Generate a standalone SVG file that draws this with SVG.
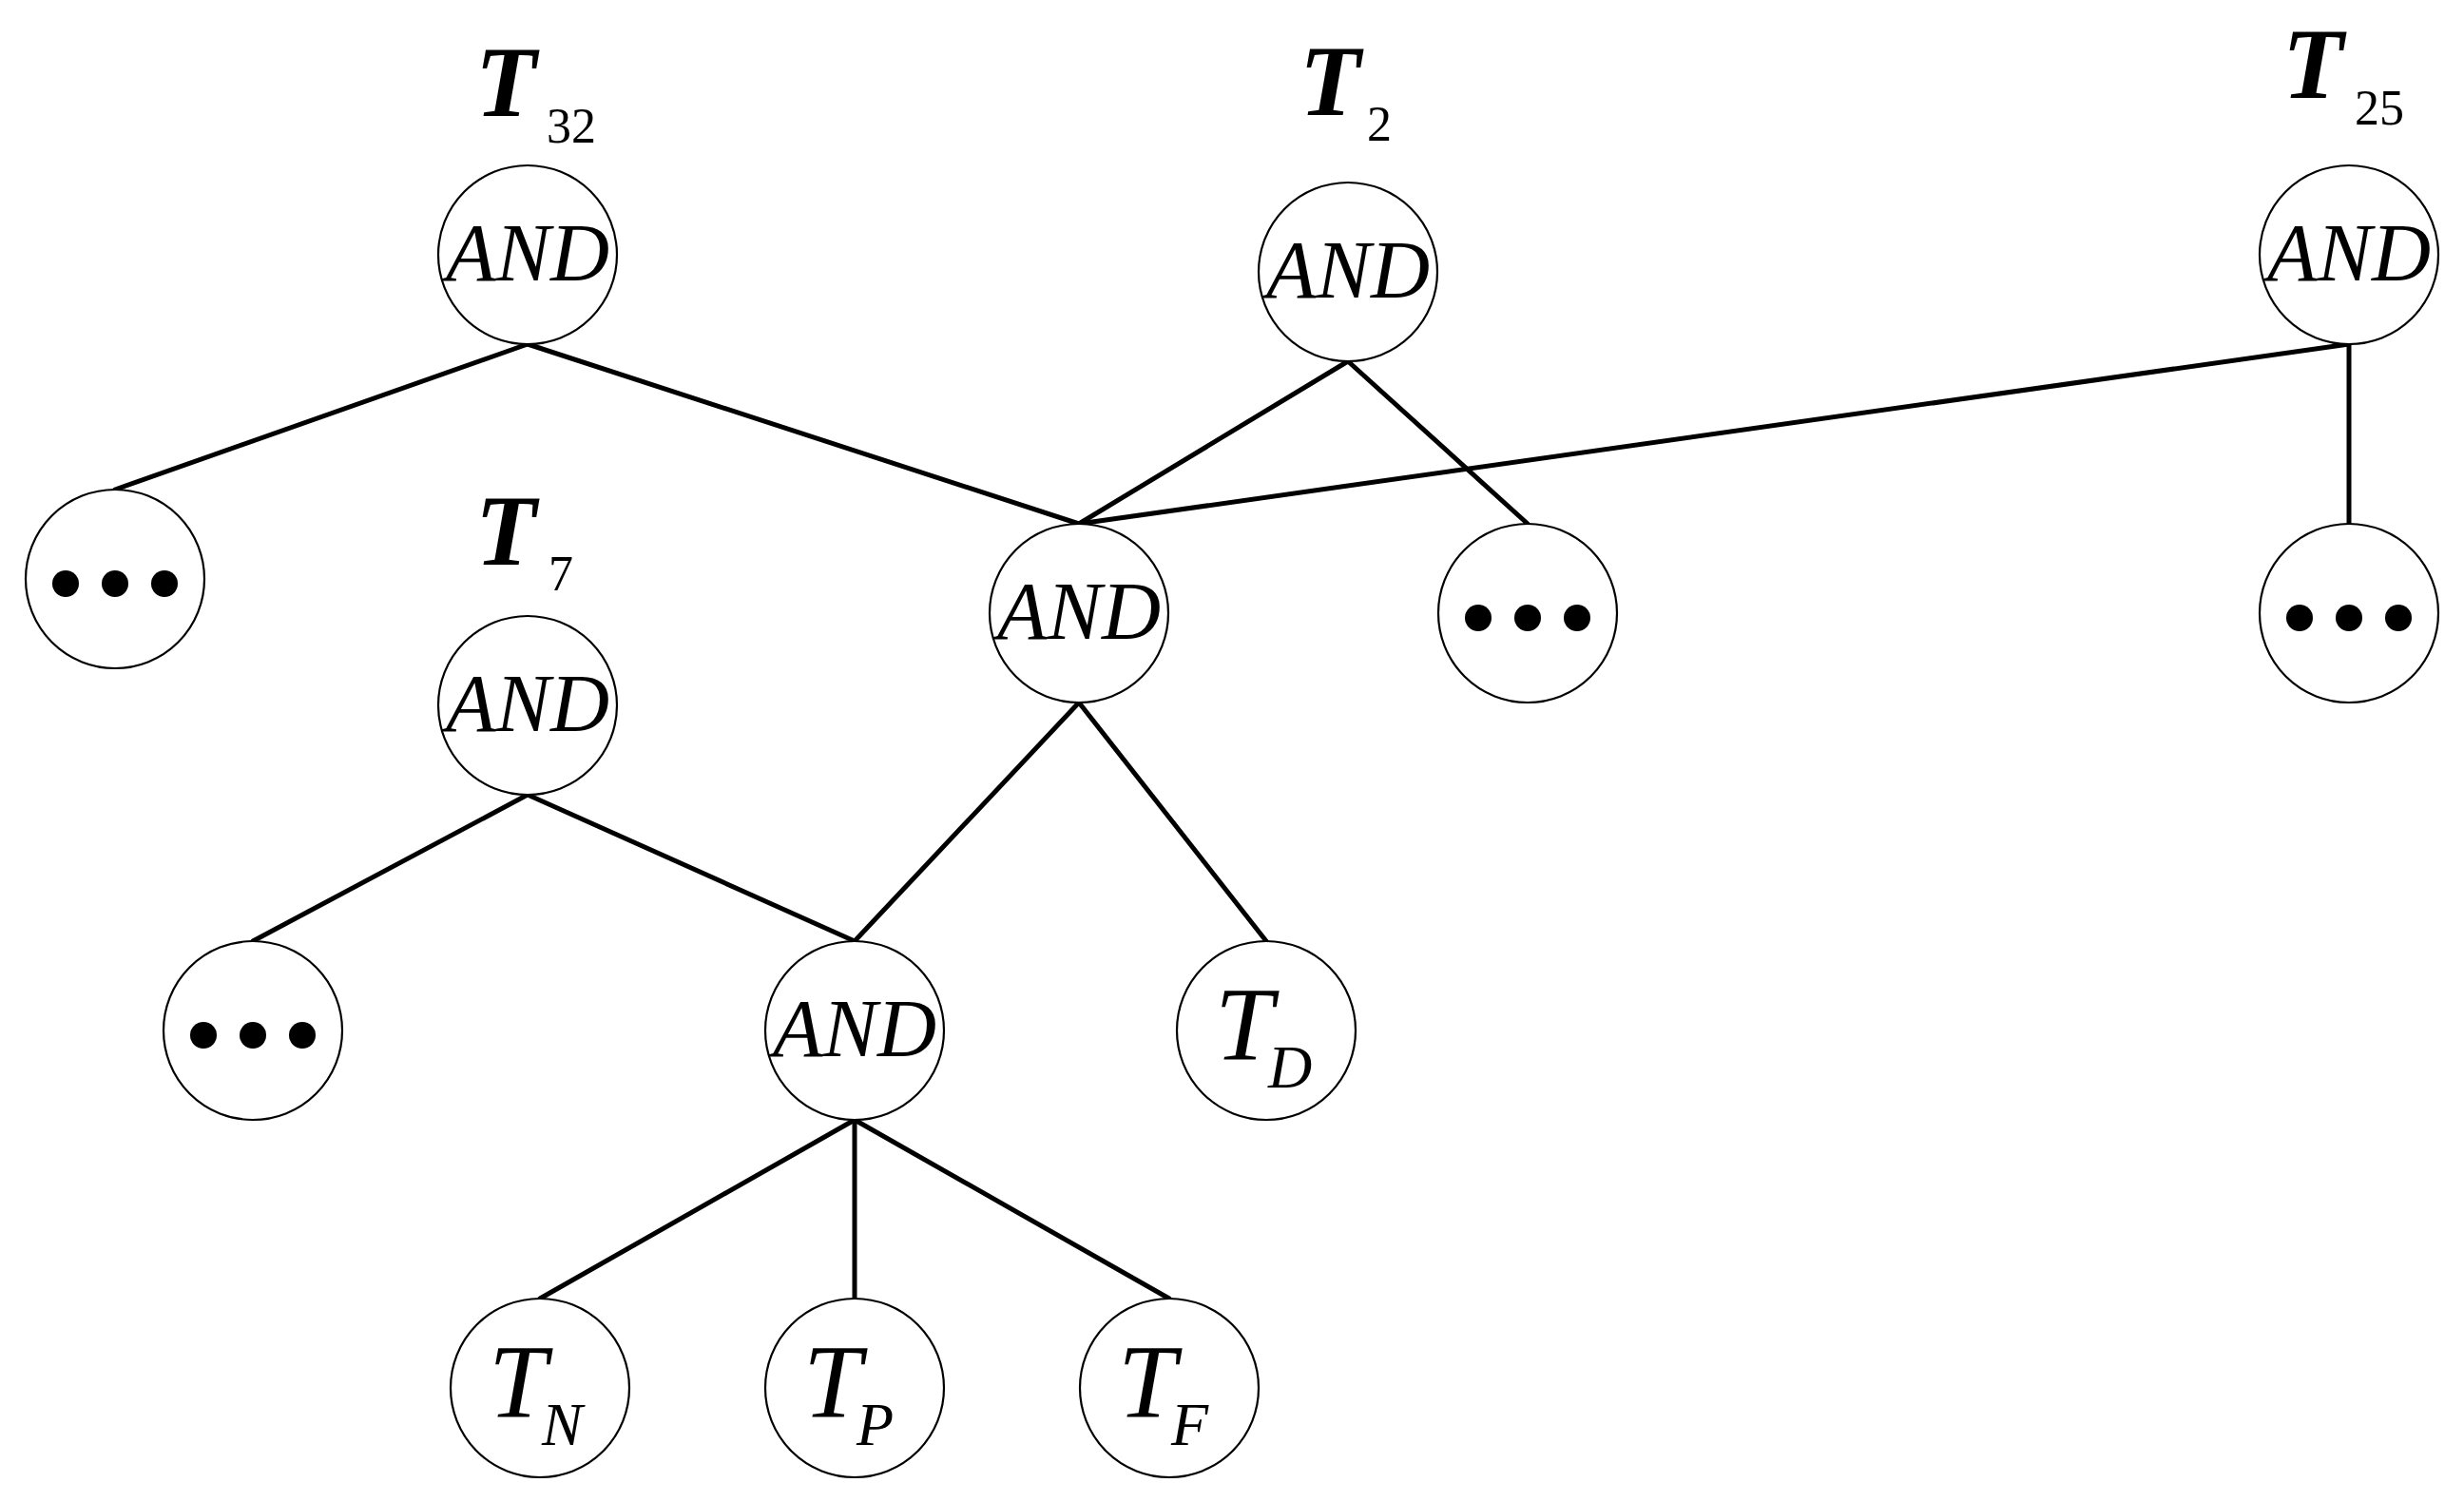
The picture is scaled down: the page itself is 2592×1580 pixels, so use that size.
<svg xmlns="http://www.w3.org/2000/svg" width="2592" height="1580" viewBox="0 0 2592 1580">
<style>
.n{fill:#fff;stroke:#000;stroke-width:2.2}
.e{stroke:#000;stroke-width:5;fill:none;stroke-linecap:round}
.a{font-family:"Liberation Serif",serif;font-style:italic;font-size:86px;text-anchor:middle}
.t{font-family:"Liberation Serif",serif;font-style:italic;font-size:110px}
.s{font-family:"Liberation Serif",serif;font-style:italic;font-size:64px}
.c{font-family:"Liberation Serif",serif;font-style:italic;font-weight:bold;font-size:105px}
.cs{font-family:"Liberation Serif",serif;font-size:52px}
</style>
<rect width="2592" height="1580" fill="#fff"/>
<g id="connectors">
<line class="e" x1="555" y1="362" x2="121" y2="515"/>
<line class="e" x1="555" y1="362" x2="1135" y2="551"/>
<line class="e" x1="1418" y1="380" x2="1135" y2="551"/>
<line class="e" x1="1418" y1="380" x2="1607" y2="551"/>
<line class="e" x1="2471" y1="362" x2="1135" y2="551"/>
<line class="e" x1="2471" y1="362" x2="2471" y2="551"/>
<line class="e" x1="555" y1="836" x2="266" y2="990"/>
<line class="e" x1="555" y1="836" x2="899" y2="990"/>
<line class="e" x1="1135" y1="739" x2="899" y2="990"/>
<line class="e" x1="1135" y1="739" x2="1332" y2="990"/>
<line class="e" x1="899" y1="1178" x2="568" y2="1366"/>
<line class="e" x1="899" y1="1178" x2="899" y2="1366"/>
<line class="e" x1="899" y1="1178" x2="1230" y2="1366"/>
</g>
<g id="T32"><circle class="n" cx="555" cy="268" r="94"/><text class="a" x="555" y="295">AND</text>
<text class="c" x="500" y="122">T</text><text class="cs" x="575" y="150">32</text></g>
<g id="T2"><circle class="n" cx="1418" cy="286" r="94"/><text class="a" x="1418" y="313">AND</text>
<text class="c" x="1367" y="121">T</text><text class="cs" x="1438" y="148">2</text></g>
<g id="T25"><circle class="n" cx="2471" cy="268" r="94"/><text class="a" x="2471" y="295">AND</text>
<text class="c" x="2401" y="103">T</text><text class="cs" x="2477" y="131">25</text></g>
<g id="T7"><circle class="n" cx="555" cy="742" r="94"/><text class="a" x="555" y="769">AND</text>
<text class="c" x="500" y="594">T</text><text class="cs" x="577" y="621">7</text></g>
<g id="mid"><circle class="n" cx="1135" cy="645" r="94"/><text class="a" x="1135" y="672">AND</text></g>
<g id="and5"><circle class="n" cx="899" cy="1084" r="94"/><text class="a" x="899" y="1111">AND</text></g>
<g id="dots1"><circle class="n" cx="121" cy="609" r="94"/><circle cx="69" cy="614" r="14"/><circle cx="121" cy="614" r="14"/><circle cx="173" cy="614" r="14"/></g>
<g id="dots2"><circle class="n" cx="1607" cy="645" r="94"/><circle cx="1555" cy="650" r="14"/><circle cx="1607" cy="650" r="14"/><circle cx="1659" cy="650" r="14"/></g>
<g id="dots3"><circle class="n" cx="2471" cy="645" r="94"/><circle cx="2419" cy="650" r="14"/><circle cx="2471" cy="650" r="14"/><circle cx="2523" cy="650" r="14"/></g>
<g id="dots4"><circle class="n" cx="266" cy="1084" r="94"/><circle cx="214" cy="1089" r="14"/><circle cx="266" cy="1089" r="14"/><circle cx="318" cy="1089" r="14"/></g>
<g id="TD"><circle class="n" cx="1332" cy="1084" r="94"/><text class="t" x="1278" y="1115">T</text><text class="s" x="1334" y="1144">D</text></g>
<g id="TN"><circle class="n" cx="568" cy="1460" r="94"/><text class="t" x="514" y="1491">T</text><text class="s" x="570" y="1520">N</text></g>
<g id="TP"><circle class="n" cx="899" cy="1460" r="94"/><text class="t" x="845" y="1491">T</text><text class="s" x="901" y="1520">P</text></g>
<g id="TF"><circle class="n" cx="1230" cy="1460" r="94"/><text class="t" x="1176" y="1491">T</text><text class="s" x="1232" y="1520">F</text></g>
</svg>
